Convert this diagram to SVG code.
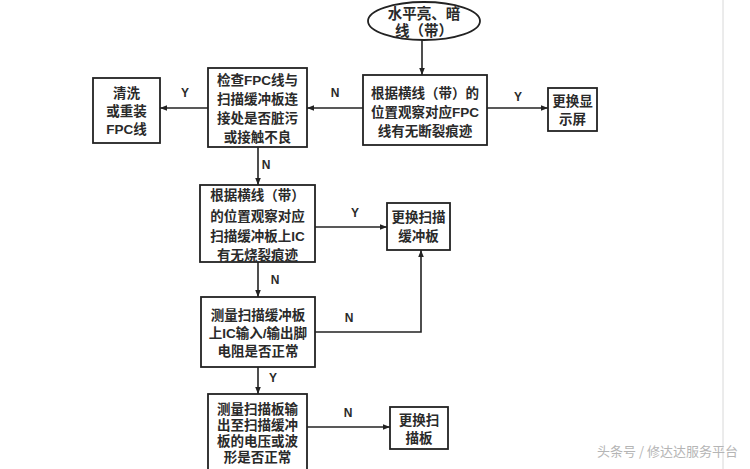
<svg xmlns="http://www.w3.org/2000/svg" width="750" height="469" viewBox="0 0 750 469">
<style>
.box{fill:#fff;stroke:#222;stroke-width:1.8}
.t{font-family:"Liberation Sans","Noto Sans CJK SC",sans-serif;font-size:13.5px;font-weight:bold;fill:#2a2a2a;text-anchor:middle}
.lbl{font-family:"Liberation Sans","Noto Sans CJK SC",sans-serif;font-size:12px;font-weight:bold;fill:#2a2a2a;text-anchor:middle}
.ln{fill:none;stroke:#222;stroke-width:1.6}
.wm{font-family:"Noto Sans CJK SC",sans-serif;font-size:13px;fill:#b5b5b5}
</style>
<defs>
<marker id="ah" viewBox="0 0 10 10" refX="10" refY="5" markerWidth="7" markerHeight="7" orient="auto" markerUnits="userSpaceOnUse">
<path d="M0,1 L10,5 L0,9 z" fill="#222"/>
</marker>
</defs>
<rect width="750" height="469" fill="#fff"/>
<line x1="723" y1="0" x2="723" y2="469" stroke="#d8d8d8" stroke-width="1"/>
<g id="connectors">
<line class="ln" x1="422" y1="40" x2="422" y2="75" marker-end="url(#ah)"/>
<line class="ln" x1="487" y1="108" x2="548" y2="108" marker-end="url(#ah)"/>
<line class="ln" x1="363" y1="108" x2="307" y2="108" marker-end="url(#ah)"/>
<line class="ln" x1="208" y1="108" x2="160" y2="108" marker-end="url(#ah)"/>
<line class="ln" x1="258" y1="147" x2="258" y2="185" marker-end="url(#ah)"/>
<line class="ln" x1="315" y1="227" x2="387" y2="227" marker-end="url(#ah)"/>
<line class="ln" x1="258" y1="262" x2="258" y2="297" marker-end="url(#ah)"/>
<polyline class="ln" points="315,332 421,332 421,250" marker-end="url(#ah)"/>
<line class="ln" x1="258" y1="367" x2="258" y2="394" marker-end="url(#ah)"/>
<line class="ln" x1="307" y1="427" x2="390" y2="427" marker-end="url(#ah)"/>
<text class="lbl" x="518" y="101">Y</text>
<text class="lbl" x="335" y="97">N</text>
<text class="lbl" x="185" y="97">Y</text>
<text class="lbl" x="266" y="169">N</text>
<text class="lbl" x="355" y="217">Y</text>
<text class="lbl" x="275" y="284">N</text>
<text class="lbl" x="349" y="322">N</text>
<text class="lbl" x="273" y="382">Y</text>
<text class="lbl" x="348" y="417">N</text>
</g>
<g id="start">
<ellipse cx="424" cy="21" rx="56" ry="19" fill="#fff" stroke="#222" stroke-width="1.8"/>
<text class="t" x="424" y="19" style="font-size:14.5px">水平亮、暗</text>
<text class="t" x="424" y="36" style="font-size:14.5px">线（带）</text>
</g>
<g id="check-fpc-crack">
<rect class="box" x="363" y="75" width="124" height="70"/>
<text class="t" x="425" y="98">根据横线（带）的</text>
<text class="t" x="425" y="117">位置观察对应FPC</text>
<text class="t" x="425" y="136">线有无断裂痕迹</text>
</g>
<g id="replace-display">
<rect class="box" x="548" y="88" width="49" height="43"/>
<text class="t" x="572.5" y="106">更换显</text>
<text class="t" x="572.5" y="124">示屏</text>
</g>
<g id="check-fpc-connection">
<rect class="box" x="208" y="68" width="99" height="79"/>
<text class="t" x="257.5" y="85">检查FPC线与</text>
<text class="t" x="257.5" y="104">扫描缓冲板连</text>
<text class="t" x="257.5" y="123">接处是否脏污</text>
<text class="t" x="257.5" y="142">或接触不良</text>
</g>
<g id="clean-fpc">
<rect class="box" x="93" y="78" width="67" height="65"/>
<text class="t" x="126.5" y="98">清洗</text>
<text class="t" x="126.5" y="116">或重装</text>
<text class="t" x="126.5" y="134">FPC线</text>
</g>
<g id="check-ic">
<rect class="box" x="200" y="185" width="115" height="77"/>
<text class="t" x="257.5" y="200">根据横线（带）</text>
<text class="t" x="257.5" y="221">的位置观察对应</text>
<text class="t" x="257.5" y="241">扫描缓冲板上IC</text>
<text class="t" x="257.5" y="260">有无烧裂痕迹</text>
</g>
<g id="replace-buffer">
<rect class="box" x="387" y="203" width="63" height="47"/>
<text class="t" x="418.5" y="222">更换扫描</text>
<text class="t" x="418.5" y="241">缓冲板</text>
</g>
<g id="measure-ic">
<rect class="box" x="201" y="297" width="114" height="70"/>
<text class="t" x="258" y="320">测量扫描缓冲板</text>
<text class="t" x="258" y="338">上IC输入/输出脚</text>
<text class="t" x="258" y="356">电阻是否正常</text>
</g>
<g id="measure-voltage">
<rect class="box" x="208" y="394" width="99" height="80"/>
<text class="t" x="257.5" y="414">测量扫描板输</text>
<text class="t" x="257.5" y="430">出至扫描缓冲</text>
<text class="t" x="257.5" y="446">板的电压或波</text>
<text class="t" x="257.5" y="462">形是否正常</text>
</g>
<g id="replace-scan">
<rect class="box" x="390" y="407" width="58" height="42"/>
<text class="t" x="419" y="425">更换扫</text>
<text class="t" x="419" y="443">描板</text>
</g>
<text class="wm" x="597" y="456">头条号 / 修达达服务平台</text>
</svg>
